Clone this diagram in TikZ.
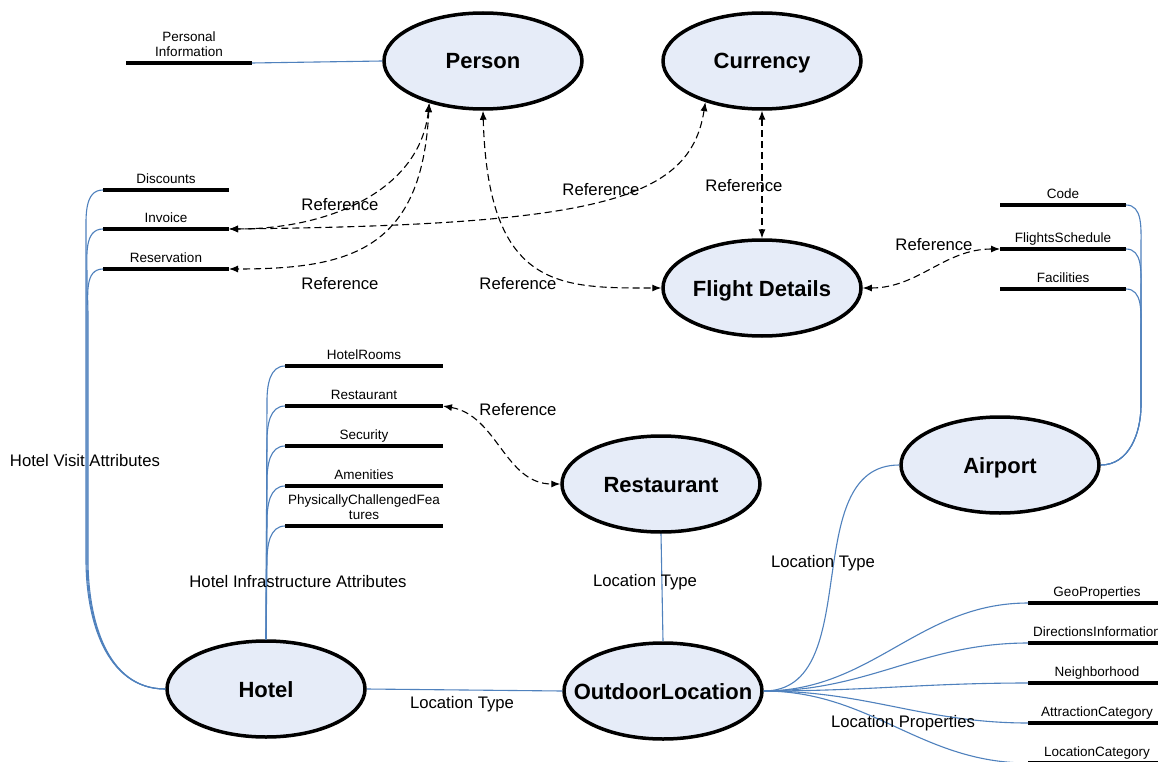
\documentclass[tikz,border=0pt]{standalone}
\usepackage{fontspec}
\setmainfont{Liberation Sans}
\usetikzlibrary{shapes.geometric,arrows.meta}

\definecolor{ovalfill}{RGB}{230,236,248}
\definecolor{linkblue}{RGB}{79,129,189}

\begin{document}
\begin{tikzpicture}[x=1pt, y=-1pt,
    entity/.style={ellipse, draw, line width=3.5pt, fill=ovalfill, inner sep=0pt,
      minimum width=198pt, minimum height=96pt, text height=16pt, text depth=0pt,
      font=\fontsize{22}{26}\selectfont\bfseries},
    attrbar/.style={line width=4.5pt},
    attrlabel/.style={font=\fontsize{13.5}{15.5}\selectfont, align=center,
      inner sep=1pt, text depth=0pt},
    linkline/.style={linkblue, line width=1.1pt},
    refline/.style={<->, dash pattern=on 7pt off 4pt, line width=1.1pt},
    edgelabel/.style={font=\fontsize{16.7}{20}\selectfont, inner sep=0pt},
    >={Latex[length=9pt,width=7pt]}]

    % Page
    \useasboundingbox (0,0) rectangle (1158,762);
    \fill[white] (0,0) rectangle (1158,762);

    % Entities
    \node[entity] (person)     at (483,61)  {Person};
    \node[entity] (currency)   at (762,61)  {Currency};
    \node[entity] (flight)     at (762,288) {Flight Details};
    \node[entity] (restaurant) at (661,484) {Restaurant};
    \node[entity] (airport)    at (1000,465) {Airport};
    \node[entity, inner xsep=-21pt] (ol) at (663,691) {OutdoorLocation};
    \node[entity] (hotel)      at (266,689) {Hotel};

    % Attribute bars: name / left x / right x / y / text
    \foreach \n/\xa/\xb/\y/\t in {
        pinfo/126/252/63/{Personal\\Information},
        disc/103/229/190/Discounts,
        inv/103/229/229/Invoice,
        res/103/229/269/Reservation,
        rooms/285/443/366/HotelRooms,
        restbar/285/443/406/Restaurant,
        sec/285/443/446/Security,
        amen/285/443/486/Amenities,
        phys/285/443/526/{PhysicallyChallengedFea\\tures},
        code/1000/1126/205/Code,
        sched/1000/1126/249/FlightsSchedule,
        fac/1000/1126/289/Facilities,
        geo/1028/1166/603/GeoProperties,
        dir/1028/1166/643/DirectionsInformation,
        neigh/1028/1166/683/Neighborhood,
        attrcat/1028/1166/723/AttractionCategory,
        loccat/1028/1166/763/LocationCategory}
    {
        \coordinate (\n-l) at (\xa,\y);
        \coordinate (\n-r) at (\xb,\y);
        \draw[attrbar] (\n-l) -- (\n-r) node[midway, above=3pt, attrlabel] (\n-t) {\t};
    }

    % Blue links
    \draw[linkline] (pinfo-r) -- (person.west);
    \foreach \n/\vx/\vy in {disc/86/235, inv/87/275, res/88/315}
        \draw[linkline] (hotel.west) to[out=180,in=-90] (\vx,560) -- (\vx,\vy) to[out=90,in=180] (\n-l);
    \foreach \n/\vy in {rooms/401, restbar/441, sec/481, amen/521, phys/561}
        \draw[linkline] (hotel.north) -- (267,\vy) to[out=90,in=180] (\n-l);
    \foreach \n/\vy in {code/245, sched/289, fac/329}
        \draw[linkline] (airport.east) to[out=0,in=-90] (1141,405) -- (1141,\vy) to[out=90,in=0] (\n-r);
    \foreach \n in {geo, dir, neigh, attrcat, loccat}
        \draw[linkline] (ol.east) to[out=0,in=180] (\n-l);
    \draw[linkline] (hotel.east) -- (ol.west);
    \draw[linkline] (restaurant.south) -- (ol.north);
    \draw[linkline] (ol.east) to[out=0,in=180] (airport.west);

    % References
    \draw[refline] (person.218) .. controls (420,190) and (330,229) .. (inv-r);
    \draw[refline] (person.218) .. controls (422,250) and (350,269) .. (res-r);
    \draw[refline] (currency.216) .. controls (690,200) and (600,225) .. (inv-r);
    \draw[refline] (person.south) .. controls (488,290) and (560,288) .. (flight.west);
    \draw[refline] (currency.south) -- (flight.north);
    \draw[refline] (flight.east) to[out=0,in=180] (sched-l);
    \draw[refline] (restbar-r) to[out=-10,in=180] (restaurant.west);

    % Edge labels
    \node[edgelabel] (visitlbl) at (85,461)  {Hotel Visit Attributes};
    \node[edgelabel] (infralbl) at (298,582) {Hotel Infrastructure Attributes};
    \node[edgelabel] (ref1)     at (340,205) {Reference};
    \node[edgelabel] (ref2)     at (340,284) {Reference};
    \node[edgelabel] (ref3)     at (601,190) {Reference};
    \node[edgelabel] (ref4)     at (744,186) {Reference};
    \node[edgelabel] (ref5)     at (518,284) {Reference};
    \node[edgelabel] (ref6)     at (934,245) {Reference};
    \node[edgelabel] (ref7)     at (518,410) {Reference};
    \node[edgelabel] (loc1)     at (462,704) {Location Type};
    \node[edgelabel] (loc2)     at (645,582) {Location Type};
    \node[edgelabel] (loc3)     at (823,563) {Location Type};
    \node[edgelabel] (locprop)  at (903,723) {Location Properties};
\end{tikzpicture}
\end{document}
